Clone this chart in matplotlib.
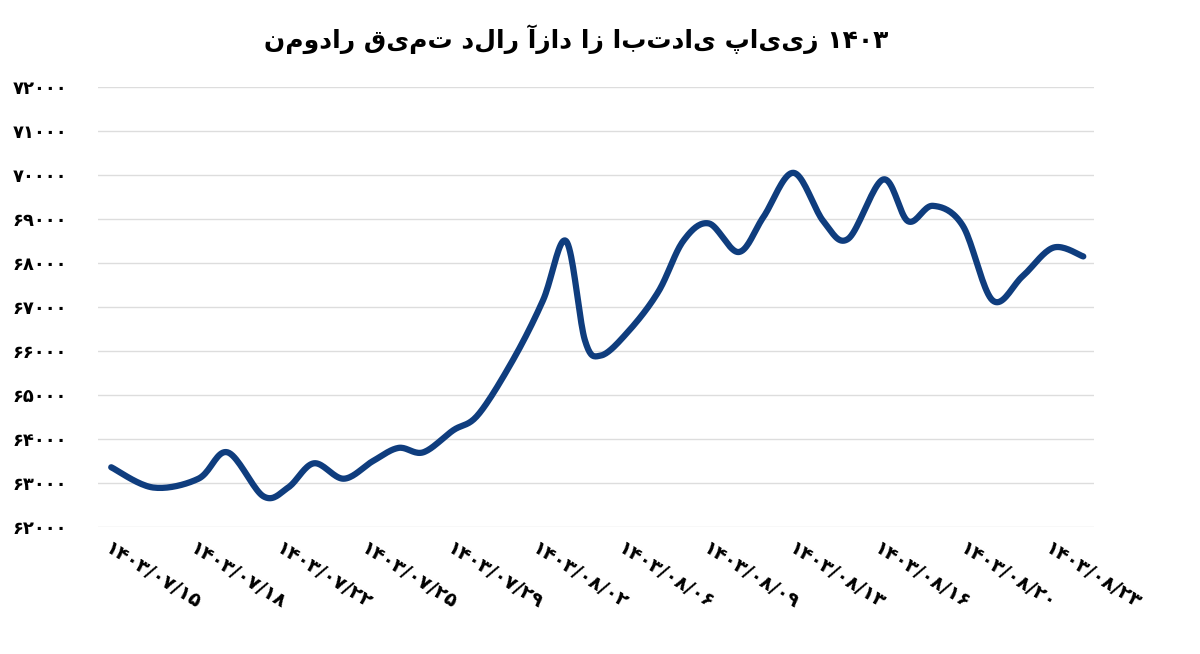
import numpy as np
import matplotlib
matplotlib.use("Agg")
import matplotlib.pyplot as plt

# data: x positions in label-index units, values in toman
x_pos = [0.0,0.49,1.02,1.36,1.78,2.07,2.37,2.72,3.06,3.36,3.65,4.0,4.29,4.70,5.05,5.32,5.54,5.73,6.05,6.40,6.69,6.99,7.34,7.63,7.98,8.33,8.62,9.03,9.32,9.61,9.96,10.31,10.66,11.02,11.37]
values = [63360,62900,63100,63700,62700,62900,63450,63100,63500,63800,63700,64200,64550,65800,67150,68500,66250,65900,66450,67350,68500,68900,68250,69050,70050,68950,68550,69900,68950,69300,68850,67150,67700,68350,68150]
dates = ["1403/07/15","1403/07/18","1403/07/22","1403/07/25","1403/07/29","1403/08/02",
         "1403/08/06","1403/08/09","1403/08/13","1403/08/16","1403/08/20","1403/08/23"]
yticks = list(range(62000, 72001, 1000))
title = "نمودار قیمت دلار آزاد از ابتدای پاییز ۱۴۰۳"

fa = str.maketrans("0123456789", "۰۱۲۳۴۵۶۷۸۹")
def fa_num(s): return s.translate(fa)

def catmull(x, y, n=20):
    x = np.asarray(x, float); y = np.asarray(y, float)
    px = np.concatenate([[x[0]], x, [x[-1]]]); py = np.concatenate([[y[0]], y, [y[-1]]])
    xs, ys = [], []
    for i in range(1, len(px) - 2):
        t = np.linspace(0, 1, n, endpoint=False)
        for arr, out in ((px, xs), (py, ys)):
            p0, p1, p2, p3 = arr[i-1], arr[i], arr[i+1], arr[i+2]
            out.append(0.5*((2*p1) + (-p0+p2)*t + (2*p0-5*p1+4*p2-p3)*t**2 + (-p0+3*p1-3*p2+p3)*t**3))
    xs.append([x[-1]]); ys.append([y[-1]])
    return np.concatenate(xs), np.concatenate(ys)

fig = plt.figure(figsize=(12, 6.54), dpi=100)
ax = fig.add_axes([0.082, 0.194, 0.83, 0.673])
sx, sy = catmull(x_pos, values)
ax.plot(sx, sy, color="#0f3d7e", lw=4.5, solid_capstyle="round")
ax.set_ylim(62000, 72000)
ax.set_xlim(-0.15, 11.5)
ax.set_yticks(yticks)
ax.set_yticklabels([fa_num(str(v)) for v in yticks], fontsize=13, fontweight="bold", ha="left")
ax.tick_params(axis="y", length=0, pad=62)
ax.yaxis.grid(True, color="#dddddd", lw=1)
ax.set_xticks(range(len(dates)))
ax.set_xticklabels([fa_num(d) for d in dates], rotation=-32, ha="left", va="top",
                   fontsize=14, fontweight="bold", rotation_mode="anchor")
ax.tick_params(axis="x", length=0, pad=8)
for s in ax.spines.values():
    s.set_visible(False)
fig.text(0.48, 0.94, title, ha="center", va="center", fontsize=18, fontweight="bold",
         family="DejaVu Sans")
fig.savefig("out.png", dpi=100)
